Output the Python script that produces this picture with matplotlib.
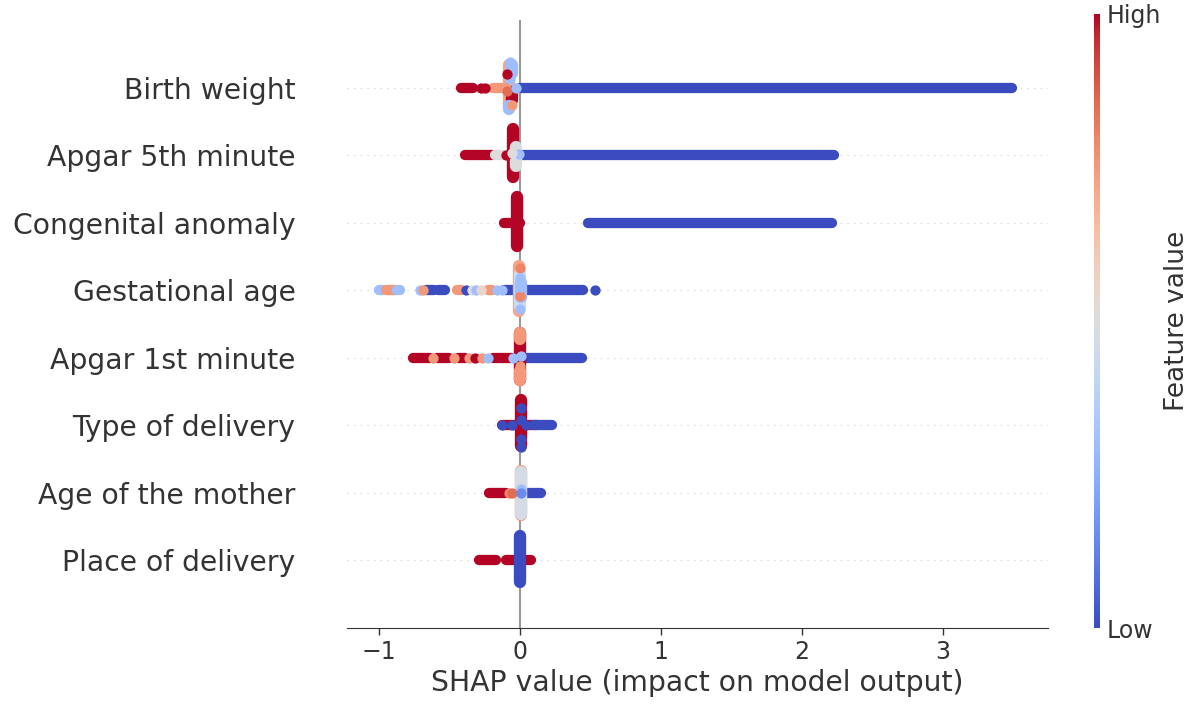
import numpy as np
import matplotlib
matplotlib.use("Agg")
import matplotlib.pyplot as plt
from matplotlib.cm import ScalarMappable
from matplotlib.colors import Normalize

# features, top to bottom
features = ["Birth weight", "Apgar 5th minute", "Congenital anomaly", "Gestational age",
            "Apgar 1st minute", "Type of delivery", "Age of the mother", "Place of delivery"]

# horizontal runs of overlapping dots: (shap start, shap end, feature value 0..1)
birth_weight_runs = [(-0.42, -0.33, 1.0), (-0.19, -0.13, 0.75), (0.0, 3.49, 0.0)]
apgar5_runs = [(-0.39, -0.20, 1.0), (-0.18, -0.12, 0.5), (0.0, 2.23, 0.0)]
congenital_runs = [(-0.11, 0.0, 1.0), (0.48, 2.21, 0.0)]
gestational_runs = [(-1.00, -0.97, 0.3), (-0.95, -0.88, 0.75), (-0.87, -0.85, 0.3),
                    (-0.67, -0.61, 0.0), (-0.58, -0.53, 0.0), (-0.45, -0.42, 0.75),
                    (-0.23, -0.20, 0.75), (-0.11, -0.05, 0.0), (0.0, 0.45, 0.0)]
apgar1_runs = [(-0.76, -0.64, 1.0), (-0.59, -0.50, 1.0), (-0.44, -0.39, 1.0),
               (-0.19, -0.06, 1.0), (0.02, 0.44, 0.0)]
delivery_type_runs = [(-0.13, 0.12, 1.0), (0.10, 0.23, 0.0)]
mother_age_runs = [(-0.22, -0.10, 1.0), (0.05, 0.15, 0.0)]
place_runs = [(-0.29, -0.17, 1.0), (-0.10, 0.08, 1.0)]

# vertical stacks near zero: (shap, row offset start, row offset end, feature value)
birth_weight_stack = [(-0.08, -0.30, 0.34, 0.72), (-0.06, 0.22, 0.34, 0.30),
                      (-0.06, -0.18, -0.06, 1.0), (-0.08, -0.32, -0.28, 0.30)]
apgar5_stack = [(-0.05, -0.33, 0.38, 1.0), (-0.03, -0.16, 0.12, 0.5)]
congenital_stack = [(-0.02, -0.34, 0.38, 1.0)]
gestational_stack = [(-0.01, -0.31, 0.36, 0.72), (0.0, -0.24, 0.24, 0.45),
                     (0.01, -0.10, 0.10, 0.3)]
apgar1_stack = [(0.0, -0.33, 0.37, 1.0), (0.0, -0.33, -0.20, 0.75), (0.0, 0.28, 0.36, 0.75)]
delivery_type_stack = [(0.01, -0.31, 0.37, 1.0)]
mother_age_stack = [(0.01, -0.33, 0.33, 0.75), (0.01, -0.31, 0.31, 0.47)]
place_stack = [(0.0, -0.32, 0.36, 0.0)]

# single dots: (shap, row offset, feature value)
birth_weight_dots = [(-0.28, 0.0, 1.0), (-0.25, 0.0, 1.0), (-0.10, 0.0, 0.75),
                     (-0.07, 0.12, 0.30), (-0.09, 0.20, 1.0), (-0.06, -0.26, 0.75),
                     (-0.09, -0.05, 0.85), (-0.03, 0.0, 0.30), (-0.07, 0.38, 0.3)]
apgar5_dots = [(-0.10, 0.0, 1.0), (-0.01, 0.02, 0.3), (-0.06, 0.03, 0.5)]
congenital_dots = []
gestational_dots = [(-0.71, 0.0, 0.3), (-0.69, 0.0, 0.75), (-0.38, 0.0, 0.0),
                    (-0.34, 0.0, 0.5), (-0.31, 0.0, 0.3), (-0.28, 0.0, 0.55),
                    (-0.16, 0.0, 0.3), (-0.13, 0.0, 0.3), (0.53, 0.0, 0.0),
                    (0.0, 0.33, 0.8), (0.0, 0.18, 0.3), (0.0, -0.08, 0.8),
                    (0.0, -0.28, 0.3), (0.0, 0.05, 0.3)]
apgar1_dots = [(-0.62, 0.0, 0.75), (-0.47, 0.0, 0.75), (-0.36, 0.0, 0.75),
               (-0.32, 0.0, 1.0), (-0.27, 0.0, 0.75), (-0.23, 0.0, 0.3),
               (-0.05, 0.0, 0.3), (0.01, 0.02, 0.3), (0.0, -0.12, 0.75)]
delivery_type_dots = [(-0.13, 0.0, 0.0), (-0.06, 0.0, 0.0), (0.04, 0.0, 0.0),
                      (0.01, 0.25, 0.0), (0.01, -0.20, 0.0), (0.01, -0.32, 0.0),
                      (0.01, 0.08, 0.0)]
mother_age_dots = [(-0.08, 0.0, 0.8), (-0.06, 0.0, 0.85), (0.01, 0.06, 0.3),
                   (0.01, 0.0, 0.15)]
place_dots = []

runs = [birth_weight_runs, apgar5_runs, congenital_runs, gestational_runs,
        apgar1_runs, delivery_type_runs, mother_age_runs, place_runs]
stacks = [birth_weight_stack, apgar5_stack, congenital_stack, gestational_stack,
          apgar1_stack, delivery_type_stack, mother_age_stack, place_stack]
dots = [birth_weight_dots, apgar5_dots, congenital_dots, gestational_dots,
        apgar1_dots, delivery_type_dots, mother_age_dots, place_dots]

cmap = plt.get_cmap("coolwarm")
text_color = "#333333"
dot_pt = 7.4

fig = plt.figure(figsize=(11.95, 7.04), dpi=100)
ax = fig.add_axes([347 / 1195, 76 / 704, 701 / 1195, 608 / 704])

n = len(features)
ax.axvline(0, color="#999999", lw=1.5, zorder=1)
for i in range(n):
    ax.axhline(n - 1 - i, color="#cccccc", lw=0.8, dashes=(1, 5), zorder=0)

for i in range(n):
    y = n - 1 - i
    for x0, x1, c in runs[i]:
        ax.plot([x0, x1], [y, y], color=cmap(c), lw=dot_pt, solid_capstyle="round", zorder=3)
    for x, d0, d1, c in stacks[i]:
        ax.plot([x, x], [y + d0, y + d1], color=cmap(c), lw=dot_pt * 1.2,
                solid_capstyle="round", zorder=4)
    for x, d, c in dots[i]:
        ax.scatter([x], [y + d], s=dot_pt ** 2, color=cmap(c), linewidths=0, zorder=5)

ax.set_xlim(-1.227, 3.745)
ax.set_ylim(-1, n)
ax.set_yticks(range(n))
ax.set_yticklabels(features[::-1], fontsize=20.3, color=text_color)
ax.tick_params(axis="y", length=0, pad=37)
ax.set_xticks([-1, 0, 1, 2, 3])
ax.set_xticklabels(["\u22121", "0", "1", "2", "3"])
ax.tick_params(axis="x", labelsize=17, colors=text_color, length=5, width=1)
ax.set_xlabel("SHAP value (impact on model output)", fontsize=20.3, color=text_color, labelpad=4)
for side in ["top", "right", "left"]:
    ax.spines[side].set_visible(False)
ax.spines["bottom"].set_color(text_color)

cax = fig.add_axes([1094 / 1195, 76 / 704, 6 / 1195, 614 / 704])
cb = fig.colorbar(ScalarMappable(norm=Normalize(0, 1), cmap=cmap), cax=cax, ticks=[0, 1])
cb.set_ticklabels(["Low", "High"])
cb.ax.tick_params(labelsize=17, length=0, pad=5, colors=text_color)
cb.set_label("Feature value", size=19, labelpad=2, color=text_color)
cb.outline.set_visible(False)

fig.savefig("out.png", dpi=100)
